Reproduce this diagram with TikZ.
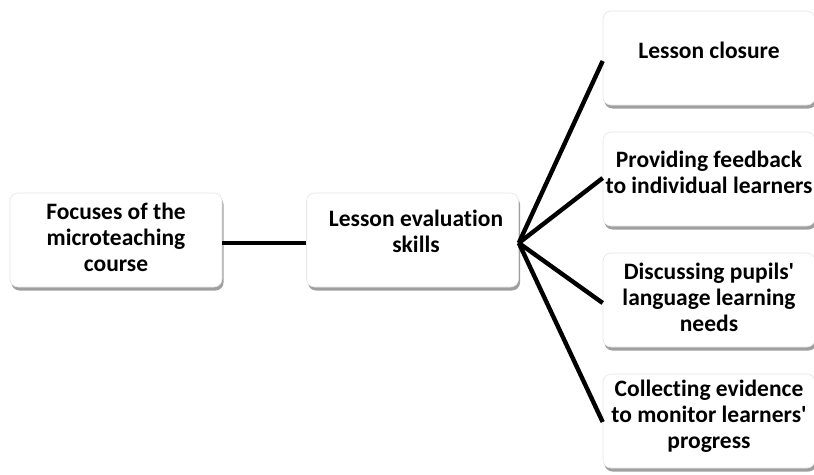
\documentclass[tikz,border=0pt]{standalone}
\usepackage{fontspec}
\setmainfont{Carlito}[Ligatures={NoCommon}]
\newcommand{\apos}{\textquotesingle}
\begin{document}
\begin{tikzpicture}[x=1pt,y=-1pt,
  box/.style={rectangle, rounded corners=8pt, fill=white, draw=gray!20, line width=0.6pt,
    minimum width=212pt, minimum height=94pt, inner sep=0pt,
    preaction={fill=gray!75, transform canvas={xshift=1.5pt,yshift=-3.5pt}}},
  lbl/.style={align=center, font=\bfseries\fontsize{23.5}{26}\selectfont, inner sep=0pt},
  conn/.style={line width=4.4pt, black}]
\useasboundingbox (0,0) rectangle (814,474);
\clip (0,0) rectangle (814,474);
\node[box] (A) at (116,240) {};
\node[box] (B) at (412.5,240) {};
\node[box] (R1) at (709,58) {};
\node[box] (R2) at (709,179) {};
\node[box] (R3) at (709,300) {};
\node[box] (R4) at (709,421) {};
\node[lbl] (tA) at (116,237) {Focuses of the\\microteaching\\course};
\node[lbl] (tB) at (416,231) {Lesson evaluation\\skills};
\node[lbl] (t1) at (709,50) {Lesson closure};
\node[lbl] (t2) at (709,172) {Providing feedback\\to individual learners};
\node[lbl] (t3) at (709,297) {Discussing pupils\apos\\language learning\\needs};
\node[lbl] (t4) at (709,416) {Collecting evidence\\to monitor learners\apos\\progress};
\coordinate (J) at ([yshift=-3pt]B.east);
\draw[conn] ([yshift=-3pt]A.east) -- ([yshift=-3pt]B.west);
\draw[conn] ([yshift=-3pt]R1.west) -- (J);
\draw[conn] ([yshift=1pt]R2.west) -- (J);
\draw[conn] ([yshift=-3pt]R3.west) -- (J);
\draw[conn] ([yshift=-1pt]R4.west) -- (J);
\end{tikzpicture}
\end{document}
